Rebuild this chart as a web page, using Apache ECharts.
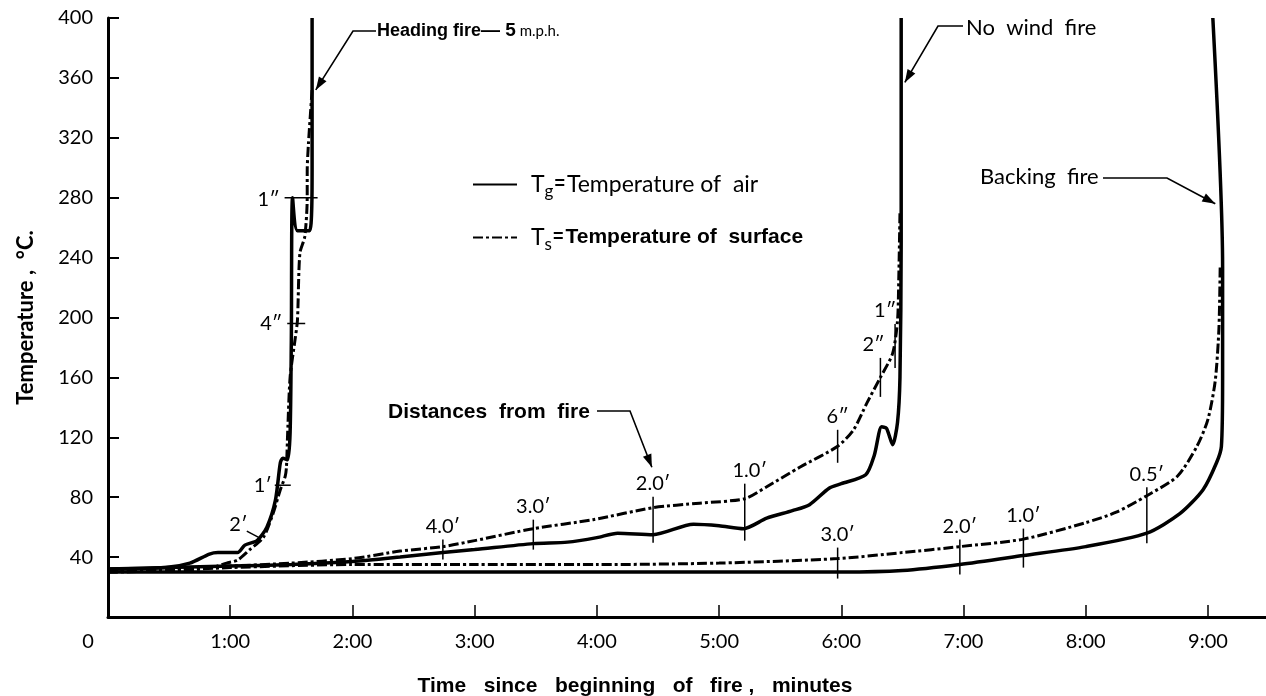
<!DOCTYPE html>
<html>
<head>
<meta charset="utf-8">
<script src="https://cdn.jsdelivr.net/npm/echarts@6.0.0/dist/echarts.min.js"></script>
<style>html,body{margin:0;padding:0;background:#fff;overflow:hidden;}#c{width:1266px;height:696px;}</style>
</head>
<body>
<div id="c"></div>
<script>
// ---------- DATA (time in minutes, temperature in °C) ----------
const xTickValues = [1, 2, 3, 4, 5, 6, 7, 8, 9];
const xTickLabels = ['1:00', '2:00', '3:00', '4:00', '5:00', '6:00', '7:00', '8:00', '9:00'];

// Heading fire – 5 m.p.h.
const headingAir = [[0,32],[0.47,33],[0.67,36],[0.83,42],[0.9,43],[1.06,43],[1.12,48],[1.22,51],[1.3,60],[1.37,78],[1.41,103],[1.43,106],[1.47,105],[1.49,123],[1.5,185],[1.51,280],[1.55,258],[1.65,258],[1.67,298],[1.67,400]];
const headingSurface = [[0,30],[0.5,31],[0.85,33],[0.97,36],[1.06,38],[1.16,45],[1.27,53],[1.35,69],[1.41,85],[1.45,94],[1.46,100],[1.47,123],[1.49,160],[1.53,185],[1.55,198],[1.57,243],[1.61,254],[1.63,280],[1.63,298],[1.64,316],[1.67,352]];

// No wind fire
const noWindAir = [[0,32],[0.5,33],[1,34],[1.5,35],[2,37],[2.39,40],[2.74,43],[3,45],[3.48,49],[3.76,50],[4.0,53],[4.17,56],[4.46,55],[4.79,62],[5.0,61],[5.2,59],[5.39,66],[5.6,71],[5.74,75],[5.9,86],[6.0,89],[6.2,95],[6.27,108],[6.33,127],[6.37,126],[6.42,115],[6.46,130],[6.48,160],[6.49,250],[6.49,400]];
const noWindSurface = [[0,31],[0.5,32],[1,34],[1.5,36],[2,39],[2.39,44],[2.74,47],[3,51],[3.48,59],[3.97,65],[4.46,73],[4.84,76],[5.21,79],[5.39,87],[5.66,100],[5.97,114],[6.1,125],[6.21,143],[6.32,160],[6.42,176],[6.46,198],[6.47,225],[6.48,270]];

// Backing fire
const backingAir = [[0,30],[1,30],[2,30],[3,30],[4,30],[5,30],[6,30],[6.5,31],[6.97,35],[7.49,41],[8,47],[8.5,56],[8.77,69],[8.96,85],[9.07,103],[9.11,114],[9.12,160],[9.12,234],[9.04,400]];
const backingSurface = [[0,30],[0.5,31],[1,33],[2,35],[3,35],[4,35],[5,36],[5.97,39],[6.5,43],[6.97,47],[7.49,52],[8,63],[8.25,70],[8.5,81],[8.75,94],[8.91,114],[9.0,132],[9.06,158],[9.09,193],[9.1,234]];

// Distance-from-fire markers
const markerLabels = ['2′', '1′', '4″', '1″', '4.0′', '3.0′', '2.0′', '1.0′', '6″', '2″', '1″', '3.0′', '2.0′', '1.0′', '0.5′'];
const markerTimes  = [1.19, 1.43, 1.54, 1.58, 2.74, 3.48, 4.46, 5.21, 5.97, 6.32, 6.44, 5.97, 6.97, 7.49, 8.50];
const markerTemps  = [55, 88, 196, 280, 45, 55, 65, 70, 114, 160, 181, 36, 40, 46, 68];

// ---------- STYLE ----------
const futura = 'Lato, "Noto Sans", sans-serif';
const arial = '"Liberation Sans", Arial, sans-serif';
// marker geometry: [width, height, rotate, labelPosition, labelOffset]
const markerStyle = [
  [15, 1.5, -28, 'left', [4, -10]],
  [16, 1.5, 0, 'left', [0, 0]],
  [18, 1.5, 0, 'left', [-2, 0]],
  [33, 1.5, 0, 'left', [-2, 2]],
  [1.5, 20, 0, 'top', [0, 0]],
  [1.5, 30, 0, 'top', [0, 0]],
  [1.5, 46, 0, 'top', [0, 0]],
  [1.5, 57, 0, 'top', [5, 0]],
  [1.5, 33, 0, 'top', [0, 0]],
  [1.5, 39, 0, 'top', [-7, 0]],
  [1.5, 44, 0, 'top', [-10, 0]],
  [1.5, 31, 0, 'top', [0, 0]],
  [1.5, 35, 0, 'top', [0, 0]],
  [1.5, 39, 0, 'top', [0, 0]],
  [1.5, 56, 0, 'top', [0, 0]]
];

const solidStyle = { color: '#000', width: 3.5, type: 'solid' };
const dashStyle = { color: '#000', width: 3, type: [10, 3, 3, 3] };

function lineSeries(name, data, style) {
  return {
    name: name, type: 'line', data: data, symbol: 'none', smooth: 0.25,
    lineStyle: style, itemStyle: { color: '#000' }, silent: true, animation: false, z: 3
  };
}

const markerData = markerLabels.map((lab, i) => {
  const s = markerStyle[i];
  return {
    value: [markerTimes[i], markerTemps[i]],
    symbolSize: [s[0], s[1]],
    symbolRotate: s[2],
    itemStyle: { color: '#000', opacity: 1 },
    label: { show: true, formatter: lab, position: s[3], offset: s[4], distance: 3, color: '#000', opacity: 1 }
  };
});

const chart = echarts.init(document.getElementById('c'), null, { renderer: 'canvas' });

const option = {
  backgroundColor: '#fff',
  animation: false,
  grid: { left: 108, right: 0, top: 18, bottom: 79, containLabel: false, outerBoundsMode: 'none' },
  xAxis: {
    type: 'value', min: 0, max: 9.475,
    name: 'Time   since   beginning   of   fire ,   minutes',
    nameLocation: 'middle', nameGap: 59,
    nameTextStyle: { fontFamily: arial, fontWeight: 'bold', fontSize: 21, color: '#000', padding: [0, 104, 0, 0] },
    axisLine: { show: true, lineStyle: { color: '#000', width: 3 } },
    axisTick: { show: true, inside: true, length: 12, lineStyle: { color: '#000', width: 1.5 }, customValues: xTickValues },
    axisLabel: {
      customValues: xTickValues,
      formatter: v => xTickLabels[xTickValues.indexOf(Math.round(v))] || '',
      fontFamily: futura, fontSize: 20, color: '#000', margin: 15
    },
    splitLine: { show: false }
  },
  yAxis: {
    type: 'value', min: 0, max: 400, interval: 40,
    name: 'Temperature ,  °C.',
    nameLocation: 'middle', nameGap: 71, nameRotate: 90,
    nameTextStyle: { fontFamily: futura, fontWeight: 'bold', fontSize: 22, color: '#000' },
    axisLine: { show: true, lineStyle: { color: '#000', width: 3 } },
    axisTick: { show: true, inside: true, length: 11, lineStyle: { color: '#000', width: 2 } },
    axisLabel: {
      formatter: v => (v === 0 ? '' : String(v)),
      fontFamily: futura, fontSize: 20, color: '#000', margin: 15
    },
    splitLine: { show: false }
  },
  legend: {
    data: ['Tg', 'Ts'],
    orient: 'vertical', left: 467, top: 168, itemGap: 26,
    itemWidth: 44, itemHeight: 14, selectedMode: false,
    itemStyle: { color: 'rgba(0,0,0,0)', borderWidth: 0, opacity: 0 },
    textStyle: {
      padding: [0, 0, 0, 9],
      rich: {
        t: { fontFamily: futura, fontSize: 23, color: '#000' },
        sg: { fontFamily: futura, fontSize: 17, color: '#000', padding: [14, 0, 0, 0] },
        e: { fontFamily: arial, fontSize: 18, fontWeight: 'bold', color: '#000', padding: [0, 2, 0, 1] },
        a: { fontFamily: futura, fontSize: 23, color: '#000' },
        b: { fontFamily: arial, fontSize: 21, fontWeight: 'bold', color: '#000' }
      }
    },
    formatter: n => n === 'Tg' ? '{t|T}{sg|g}{e|=}{a|Temperature of  air}' : '{t|T}{sg|s}{e|=}{b|Temperature of  surface}'
  },
  series: [
    lineSeries('Tg', headingAir, solidStyle),
    lineSeries('Ts', headingSurface, dashStyle),
    lineSeries('Tg', noWindAir, solidStyle),
    lineSeries('Ts', noWindSurface, dashStyle),
    lineSeries('Tg', backingAir, solidStyle),
    lineSeries('Ts', backingSurface, dashStyle),
    {
      name: 'markers', type: 'scatter', data: markerData, symbol: 'rect',
      itemStyle: { color: '#000', opacity: 1 }, silent: true, z: 5,
      label: { color: '#000', fontFamily: futura, fontSize: 20 }
    }
  ]
};
chart.setOption(option);

// ---------- Annotations (labels with leader arrows) ----------
function arrowHead(x1, y1, x2, y2) {
  const dx = x2 - x1, dy = y2 - y1, L = Math.hypot(dx, dy);
  const ux = dx / L, uy = dy / L, px = -uy, py = ux;
  const back = 13, half = 4.5;
  return {
    type: 'polygon', silent: true,
    shape: { points: [[x2, y2], [x2 - ux * back + px * half, y2 - uy * back + py * half], [x2 - ux * back - px * half, y2 - uy * back - py * half]] },
    style: { fill: '#000' }
  };
}
function leader(points) {
  const n = points.length;
  return [
    { type: 'polyline', silent: true, shape: { points: points }, style: { stroke: '#000', lineWidth: 1.6, fill: null } },
    arrowHead(points[n - 2][0], points[n - 2][1], points[n - 1][0], points[n - 1][1])
  ];
}
// arrow tips anchored in data coordinates
const tipHeading = chart.convertToPixel({ gridIndex: 0 }, [1.70, 352]);
const tipNoWind = chart.convertToPixel({ gridIndex: 0 }, [6.52, 357]);
const tipBacking = chart.convertToPixel({ gridIndex: 0 }, [9.06, 276]);
const tipDist = chart.convertToPixel({ gridIndex: 0 }, [4.45, 100]);

const graphics = [].concat(
  leader([[376, 31], [353, 31], tipHeading]),
  leader([[963, 26], [938, 26], tipNoWind]),
  leader([[1103, 178], [1167, 178], tipBacking]),
  leader([[597, 411], [630, 411], tipDist]),
  [
    { type: 'text', silent: true, x: 377, y: 31, style: {
      text: '{a|Heading fire}{b|— 5}{c| m.p.h.}', verticalAlign: 'middle',
      rich: {
        a: { fontFamily: arial, fontWeight: 'bold', fontSize: 18, fill: '#000' },
        b: { fontFamily: arial, fontWeight: 'bold', fontSize: 19, fill: '#000' },
        c: { fontFamily: futura, fontSize: 15, fill: '#000' }
      } } },
    { type: 'text', silent: true, x: 966, y: 28, style: { text: 'No  wind  fire', fontFamily: futura, fontSize: 22, fill: '#000', verticalAlign: 'middle' } },
    { type: 'text', silent: true, x: 980, y: 177, style: { text: 'Backing  fire', fontFamily: futura, fontSize: 22, fill: '#000', verticalAlign: 'middle' } },
    { type: 'text', silent: true, x: 388, y: 412, style: { text: 'Distances  from  fire', fontFamily: arial, fontWeight: 'bold', fontSize: 21, fill: '#000', verticalAlign: 'middle' } },
    { type: 'text', silent: true, x: 88, y: 642, style: { text: '0', fontFamily: futura, fontSize: 20, fill: '#000', align: 'center', verticalAlign: 'middle' } }
  ]
);
chart.setOption({ graphic: graphics });
</script>
</body>
</html>
